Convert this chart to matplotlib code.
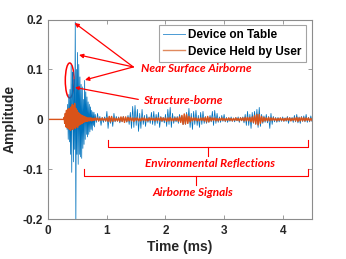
import numpy as np
import matplotlib
matplotlib.use("Agg")
import matplotlib.pyplot as plt
from matplotlib.patches import Ellipse

# ---- data (amplitude vs time in ms) ----
# burst region sampled every 0.01 ms, tail every 0.02 ms
blue_burst_start = 0.30
blue_burst = [
    0.0, 0.008, -0.02, 0.03, -0.04, 0.05, -0.045, 0.06, -0.07, 0.108,
    -0.106, 0.07, 0.095, -0.085, 0.08, -0.06, 0.195, -0.215, 0.10, -0.07,
    0.134, -0.09, 0.11, -0.07, 0.085, -0.075, 0.07, -0.078, 0.065, -0.058,
    0.04, -0.05, 0.078, -0.04, 0.055, -0.03, 0.045, -0.035, 0.035, -0.03,
    0.03, -0.025, 0.025, -0.02, 0.018, -0.022, 0.015, -0.012, 0.014, -0.015,
]
tail_start = 0.80
blue_tail = [
    0.010, -0.006, 0.012, -0.004, 0.006, -0.012, 0.004, -0.006, 0.005, -0.004,
    0.016, -0.018, 0.006, -0.008, 0.004, -0.014, 0.012, -0.005, 0.006, -0.004,
    0.005, -0.007, 0.003, -0.005, 0.006, -0.004, 0.003, -0.006, 0.008, -0.010,
    0.014, -0.018, 0.026, -0.016, 0.028, -0.012, 0.020, -0.024, 0.012, -0.018,
    0.020, -0.010, 0.008, -0.014, 0.010, -0.006, 0.005, -0.008, 0.014, -0.010,
    0.016, -0.012, 0.010, -0.008, 0.014, -0.016, 0.006, -0.005, 0.004, -0.007,
    0.010, -0.014, 0.020, -0.010, 0.024, -0.016, 0.012, -0.008, 0.006, -0.005,
    0.006, -0.008, 0.010, -0.004, 0.007, -0.010, 0.005, -0.010, 0.014, -0.008,
    0.022, -0.016, 0.012, -0.020, 0.016, -0.010, 0.018, -0.012, 0.008, -0.016,
    0.014, -0.010, 0.016, -0.008, 0.006, -0.008, 0.004, -0.006, 0.008, -0.005,
    0.016, -0.012, 0.018, -0.008, 0.012, -0.006, 0.005, -0.006, 0.008, -0.004,
    0.010, -0.005, 0.004, -0.006, 0.003, -0.004, 0.005, -0.004, 0.003, -0.005,
    0.004, -0.003, 0.005, -0.006, 0.004, -0.003, 0.005, -0.007, 0.010, -0.012,
    0.016, -0.012, 0.010, -0.018, 0.014, -0.008, 0.016, -0.010, 0.020, -0.016,
    0.024, -0.014, 0.010, -0.008, 0.007, -0.006, 0.010, -0.007, 0.006, -0.018,
    0.012, -0.010, 0.006, -0.005, 0.004, -0.006, 0.004, -0.005, 0.003, -0.004,
    0.005, -0.004, 0.003, -0.004, 0.006, -0.008, 0.004, -0.003, 0.004, -0.006,
    0.008, -0.005, 0.010, -0.007, 0.005, -0.008, 0.006, -0.004, 0.007, -0.005,
    0.010, -0.006, 0.004, -0.005, 0.007, -0.004,
]

orange_burst_start = 0.26
orange_burst = [
    0.0, 0.004, -0.008, 0.012, -0.015, 0.018, -0.016, 0.020, -0.018, 0.022,
    -0.020, 0.018, -0.022, 0.025, -0.018, 0.030, -0.020, 0.028, -0.016, 0.032,
    -0.018, 0.022, -0.015, 0.018, -0.016, 0.014, -0.012, 0.012, -0.010, 0.010,
    -0.009, 0.008, -0.008, 0.007, -0.006, 0.006, -0.005, 0.005, -0.004, 0.004,
    -0.004, 0.003, -0.003, 0.003, -0.003, 0.003, -0.002, 0.003, -0.003, 0.002,
    -0.002, 0.002, -0.002, 0.002,
]
orange_tail = [
    0.003, -0.002, 0.003, -0.003, 0.002, -0.002, 0.003, -0.002, 0.002, -0.003,
    0.003, -0.004, 0.006, -0.005, 0.006, -0.004, 0.003, -0.003, 0.002, -0.003,
    0.003, -0.004, 0.005, -0.004, 0.005, -0.006, 0.005, -0.004, 0.004, -0.003,
    0.004, -0.003, 0.003, -0.004, 0.003, -0.002, 0.003, -0.003, 0.002, -0.003,
    0.003, -0.002, 0.003, -0.003, 0.002, -0.003, 0.003, -0.002, 0.003, -0.002,
    0.002, -0.003, 0.003, -0.002, 0.003, -0.003, 0.004, -0.003, 0.003, -0.002,
    0.003, -0.004, 0.003, -0.003, 0.004, -0.003, 0.002, -0.003, 0.003, -0.002,
    0.003, -0.004, 0.005, -0.006, 0.008, -0.010, 0.011, -0.009, 0.010, -0.008,
    0.006, -0.005, 0.004, -0.003, 0.003, -0.002, 0.003, -0.003, 0.002, -0.003,
    0.003, -0.002, 0.003, -0.003, 0.004, -0.005, 0.006, -0.005, 0.004, -0.003,
    0.003, -0.002, 0.003, -0.003, 0.002, -0.003, 0.002, -0.002, 0.003, -0.002,
    0.002, -0.003, 0.002, -0.002, 0.003, -0.002, 0.002, -0.003, 0.002, -0.002,
    0.003, -0.002, 0.002, -0.003, 0.003, -0.002, 0.003, -0.003, 0.004, -0.003,
    0.004, -0.003, 0.004, -0.005, 0.005, -0.006, 0.008, -0.009, 0.010, -0.011,
    0.010, -0.008, 0.006, -0.005, 0.004, -0.003, 0.003, -0.003, 0.004, -0.003,
    0.003, -0.002, 0.003, -0.002, 0.002, -0.003, 0.002, -0.002, 0.003, -0.002,
    0.002, -0.003, 0.002, -0.002, 0.003, -0.002, 0.003, -0.003, 0.002, -0.002,
    0.003, -0.003, 0.004, -0.004, 0.003, -0.003, 0.004, -0.003, 0.003, -0.003,
    0.003, -0.002, 0.003, -0.003, 0.002, -0.002,
]

labels = ["Device on Table", "Device Held by User"]
xticks = [0, 1, 2, 3, 4]
yticks = [-0.2, -0.1, 0, 0.1, 0.2]
yticklabels = ["-0.2", "-0.1", "0", "0.1", "0.2"]


def build(burst_start, burst, tail):
    t_b = burst_start + 0.01 * np.arange(len(burst))
    t_t = tail_start + 0.02 * np.arange(len(tail))
    t = np.concatenate([[0.0], t_b, t_t])
    y = np.concatenate([[0.0], burst, tail])
    return t, y


t_blue, y_blue = build(blue_burst_start, blue_burst, blue_tail)
t_orange, y_orange = build(orange_burst_start, orange_burst, orange_tail)

plt.rcParams['font.family'] = ['Liberation Sans', 'DejaVu Sans']
fig = plt.figure(figsize=(3.46, 2.59), dpi=100)
ax = fig.add_axes([0.1396, 0.1533, 0.7621, 0.7714])

ax.plot(t_blue, y_blue, color='#0072BD', lw=0.55, label=labels[0])
ax.plot(t_orange, y_orange, color='#D95319', lw=1.0, label=labels[1])

ax.set_xlim(0, 4.5)
ax.set_ylim(-0.2, 0.2)
ax.set_xticks(xticks)
ax.set_yticks(yticks)
ax.set_yticklabels(yticklabels)
ax.tick_params(direction='in', length=3, width=0.6, top=True, right=True,
               labelsize=8.5, colors='#262626', pad=4)
for lab in ax.get_xticklabels() + ax.get_yticklabels():
    lab.set_fontweight('bold')
for sp in ax.spines.values():
    sp.set_color('#8c8c8c')
    sp.set_linewidth(0.8)
ax.tick_params(which='both', color='#8c8c8c')

ax.set_xlabel('Time (ms)', fontsize=10, fontweight='bold', color='#262626', labelpad=2)
ax.set_ylabel('Amplitude', fontsize=10, fontweight='bold', color='#262626', labelpad=4)

leg = ax.legend(loc='upper right', bbox_to_anchor=(0.976, 0.9715),
                prop={'weight': 'bold', 'size': 8.5}, frameon=True, fancybox=False,
                handlelength=1.8, handletextpad=0.3, borderpad=0.35, labelspacing=0.36,
                borderaxespad=0)
leg.get_frame().set_edgecolor('#8c8c8c')
leg.get_frame().set_linewidth(0.8)
leg.legend_handles[0].set_linewidth(0.7)
leg.legend_handles[0].set_color('#4a9ad4')
leg.legend_handles[1].set_linewidth(1.0)
leg.legend_handles[1].set_color('#e08a5e')

red = '#FF0000'
afont = dict(family=['Lato', 'DejaVu Sans'], style='italic', weight='bold', size=8.5, color=red)

# arrows to the near surface airborne peaks
src = (1.45, 0.105)
for tip in [(0.45, 0.193), (0.524, 0.129), (0.626, 0.079)]:
    ax.annotate('', xy=tip, xytext=src,
                arrowprops=dict(arrowstyle='-|>', color=red, lw=0.9,
                                mutation_scale=6, shrinkA=0, shrinkB=0))
ax.text(1.577, 0.102, 'Near Surface Airborne', ha='left', va='center', **afont)

ax.add_patch(Ellipse((0.365, 0.078), 0.15, 0.07, fill=False, ec=red, lw=1.1))
ax.annotate('', xy=(0.456, 0.064), xytext=(1.536, 0.040),
            arrowprops=dict(arrowstyle='-|>', color=red, lw=0.9,
                            mutation_scale=5, shrinkA=0, shrinkB=0))
ax.text(1.62, 0.0385, 'Structure-borne', ha='left', va='center', **afont)


def brace(x0, x1, y_line, y_end, xm, y_tip):
    ax.plot([x0, x0, x1, x1], [y_end, y_line, y_line, y_end], color=red, lw=0.8)
    ax.plot([xm, xm], [y_line, y_tip], color=red, lw=0.8)


brace(1.024, 4.43, -0.0547, -0.0413, 2.73, -0.0734)
ax.text(2.76, -0.088, 'Environmental Reflections', ha='center', va='center', **afont)
brace(0.615, 4.43, -0.1127, -0.100, 2.52, -0.131)
ax.text(2.47, -0.146, 'Airborne Signals', ha='center', va='center', **afont)

fig.savefig('out.png', dpi=100)
